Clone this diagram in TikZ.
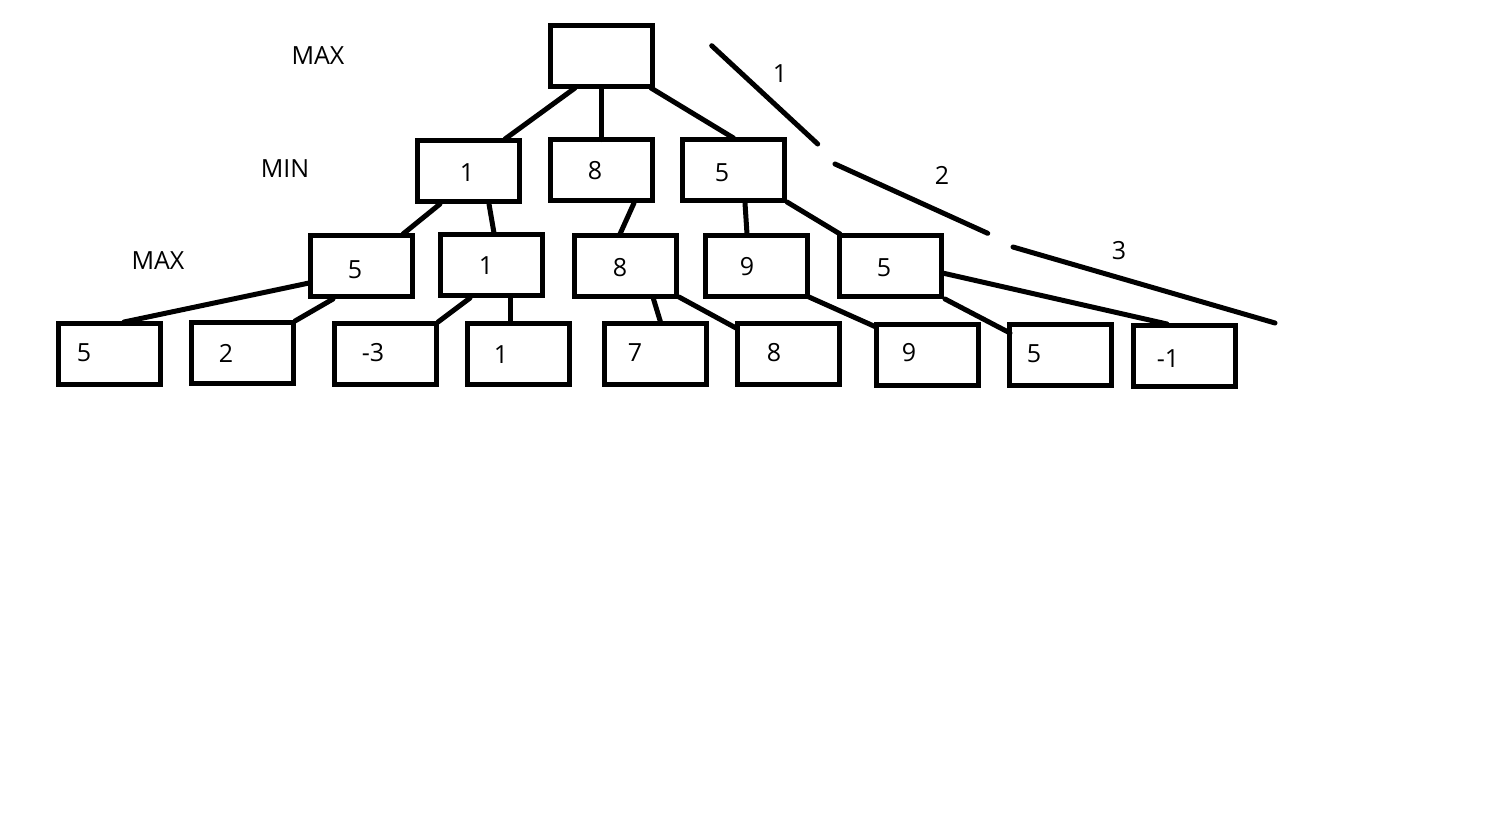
\documentclass[tikz,border=0pt]{standalone}
\usepackage{fontspec}
\setmainfont{Open Sans}
\usetikzlibrary{calc}
\begin{document}
\begin{tikzpicture}[x=1pt,y=-1pt,
  box/.style={draw=black,line width=5pt,minimum width=102pt,minimum height=61pt,inner sep=0pt,outer sep=0pt},
  txt/.style={font=\fontsize{25}{28}\selectfont,inner sep=0pt,anchor=center},
  edge/.style={line width=5pt,line cap=round}]
\useasboundingbox (0,0) rectangle (1486,831);
\fill[white] (0,0) rectangle (1486,831);
% boxes
\node[box] (r) at (601.5,56) {};
\node[box] (a1) at (468.5,171) {};
\node[box] (b1) at (601.5,170) {};
\node[box] (c1) at (733.5,170) {};
\node[box] (a2) at (361.5,266) {};
\node[box] (b2) at (491.5,265) {};
\node[box] (c2) at (625.5,266) {};
\node[box] (d2) at (756,266) {};
\node[box] (e2) at (890.5,266) {};
\node[box] (a3) at (109.5,354) {};
\node[box] (b3) at (242.5,353) {};
\node[box] (c3) at (385.5,354) {};
\node[box] (d3) at (518.5,354) {};
\node[box] (e3) at (655.5,354) {};
\node[box] (f3) at (788.5,354) {};
\node[box] (g3) at (927.5,355) {};
\node[box] (h3) at (1060.5,355) {};
\node[box] (i3) at (1184.5,356) {};
% box texts
\node[txt] (ta1) at (467,173) {1};
\node[txt] (tb1) at (595,171) {8};
\node[txt] (tc1) at (722,173) {5};
\node[txt] (ta2) at (355,270) {5};
\node[txt] (tb2) at (486,266) {1};
\node[txt] (tc2) at (620,268) {8};
\node[txt] (td2) at (747,267) {9};
\node[txt] (te2) at (884,268) {5};
\node[txt] (ta3) at (84,353) {5};
\node[txt] (tb3) at (226,353) {2};
\node[txt] (tc3) at (373,353) {-3};
\node[txt] (td3) at (501,355) {1};
\node[txt] (te3) at (635,353) {7};
\node[txt] (tf3) at (774,353) {8};
\node[txt] (tg3) at (909,353) {9};
\node[txt] (th3) at (1034,354) {5};
\node[txt] (ti3) at (1168,359) {-1};
% level labels
\node[txt] (lmax1) at (318,56) {MAX};
\node[txt] (lmin) at (285,169) {MIN};
\node[txt] (lmax2) at (158,261) {MAX};
% depth labels
\node[txt] (d1) at (780,74) {1};
\node[txt] (d2l) at (942,175) {2};
\node[txt] (d3l) at (1119,251) {3};
% connectors
\draw[edge] ($(r)+(-26.5,32)$) -- ($(a1)+(36.5,-32)$);
\draw[edge] (r.south) -- (b1.north);
\draw[edge] ($(r)+(49.5,32)$) -- ($(c1)+(0,-32)$);
\draw[edge] ($(a1)+(-28.5,33)$) -- ($(a2)+(41.5,-32)$);
\draw[edge] ($(a1)+(20.5,33)$) -- ($(b2)+(2.5,-32)$);
\draw[edge] ($(b1)+(32.5,33)$) -- ($(c2)+(-5.5,-32)$);
\draw[edge] ($(c1)+(11.5,33)$) -- ($(d2)+(-9,-32)$);
\draw[edge] ($(c1)+(53.5,32)$) -- ($(e2)+(-50.5,-32)$);
\draw[edge] ($(a2)+(-52.5,17)$) -- ($(a3)+(14.5,-32)$);
\draw[edge] ($(a2)+(-28.5,33)$) -- ($(b3)+(52.5,-32)$);
\draw[edge] ($(b2)+(-21.5,33)$) -- ($(c3)+(52.5,-32)$);
\draw[edge] ($(b2)+(19,33)$) -- ($(d3)+(-8,-32)$);
\draw[edge] ($(c2)+(28,33)$) -- ($(e3)+(5,-32)$);
\draw[edge] ($(c2)+(53.5,31)$) -- ($(f3)+(-52.5,-26)$);
\draw[edge] ($(d2)+(53,31)$) -- ($(g3)+(-51.5,-28)$);
\draw[edge] ($(e2)+(54.5,33)$) -- ($(h3)+(-50.5,-22)$);
\draw[edge] ($(e2)+(52,7)$) -- ($(i3)+(-17.5,-32)$);
% depth lines
\draw[edge] (711.7,45.7) -- (817.7,144);
\draw[edge] (835,164) -- (987.7,233.3);
\draw[edge] (1013,247) -- (1275,323);
\end{tikzpicture}
\end{document}
